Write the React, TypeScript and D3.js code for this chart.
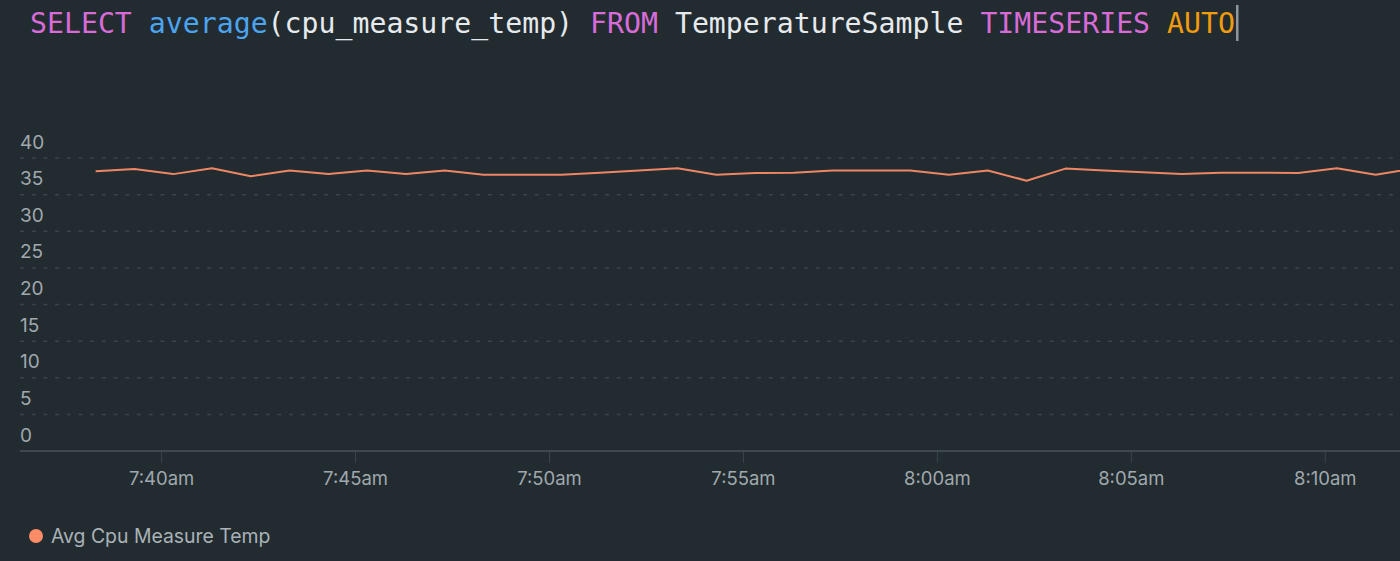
import React from "react";
import * as d3 from "d3";

const queryTokens = [
  { text: "SELECT", kind: "keyword" },
  { text: " ", kind: "plain" },
  { text: "average", kind: "func" },
  { text: "(cpu_measure_temp) ", kind: "plain" },
  { text: "FROM", kind: "keyword" },
  { text: " TemperatureSample ", kind: "plain" },
  { text: "TIMESERIES", kind: "keyword" },
  { text: " ", kind: "plain" },
  { text: "AUTO", kind: "auto" },
];

const times = [
  "07:38:18", "07:39:18", "07:40:18", "07:41:18", "07:42:18", "07:43:18", "07:44:18",
  "07:45:18", "07:46:18", "07:47:18", "07:48:18", "07:49:18", "07:50:18", "07:51:18",
  "07:52:18", "07:53:18", "07:54:18", "07:55:18", "07:56:18", "07:57:18", "07:58:18",
  "07:59:18", "08:00:18", "08:01:18", "08:02:18", "08:03:18", "08:04:18", "08:05:18",
  "08:06:18", "08:07:18", "08:08:18", "08:09:18", "08:10:18", "08:11:18", "08:12:18",
];

const values = [
  38.2, 38.5, 37.8, 38.6, 37.5, 38.3, 37.8, 38.3, 37.8, 38.3,
  37.7, 37.7, 37.7, 38.0, 38.3, 38.6, 37.7, 37.95, 38.0, 38.3,
  38.3, 38.3, 37.7, 38.3, 36.9, 38.55, 38.3, 38.05, 37.8, 38.0,
  38.0, 37.95, 38.6, 37.7, 38.6,
];

const yTicks = [0, 5, 10, 15, 20, 25, 30, 35, 40];
const seriesName = "Avg Cpu Measure Temp";
const domainStart = "07:36:21";
const domainEnd = "08:12:18";

const parse = d3.timeParse("%H:%M:%S");
const fmt = d3.timeFormat("%-I:%M%p");

const colors: Record<string, string> = {
  keyword: "#d86bd8",
  func: "#4ca4ee",
  plain: "#e6eaed",
  auto: "#f09c0c",
};

export default function App() {
  const W = 1400;
  const H = 561;
  const x = d3
    .scaleTime()
    .domain([parse(domainStart) as Date, parse(domainEnd) as Date])
    .range([20, 1414.5]);
  const y = d3.scaleLinear().domain([0, 40]).range([451, 158]);

  const data = times.map((t, i) => ({ t: parse(t) as Date, v: values[i] }));
  const line = d3
    .line<{ t: Date; v: number }>()
    .x((d) => x(d.t))
    .y((d) => y(d.v));

  const xTicks = x.ticks(d3.timeMinute.every(5) as any);

  const sans = "Inter, 'Open Sans', sans-serif";

  return (
    <svg
      width={W}
      height={H}
      style={{ position: "absolute", left: 0, top: 0, display: "block", background: "#222b30" }}
    >
      <rect x={0} y={0} width={W} height={H} fill="#222b30" />
      <text
        x={30}
        y={33}
        fontFamily="'DejaVu Sans Mono', monospace"
        fontSize={28.2}
        xmlSpace="preserve"
        style={{ whiteSpace: "pre" }}
      >
        {queryTokens.map((tk, i) => (
          <tspan key={i} fill={colors[tk.kind]}>
            {tk.text}
          </tspan>
        ))}
      </text>
      <rect x={1236} y={5} width={2.5} height={36} fill="#8e979c" />

      {yTicks.map((t) => (
        <g key={t}>
          {t > 0 && (
            <line
              x1={20}
              x2={W}
              y1={y(t)}
              y2={y(t)}
              stroke="#3a444a"
              strokeWidth={1.5}
              strokeDasharray="4,7.7"
            />
          )}
          <text x={20} y={y(t) - 9.5} fill="#a0a8ad" fontFamily={sans} fontSize={19}>
            {t}
          </text>
        </g>
      ))}

      <line x1={20} x2={W} y1={451} y2={451} stroke="#3e484e" strokeWidth={2} />

      {xTicks.map((t, i) => (
        <g key={i}>
          <line x1={x(t)} x2={x(t)} y1={452} y2={463} stroke="#3a444a" strokeWidth={1} />
          <text
            x={x(t)}
            y={485}
            textAnchor="middle"
            fill="#a0a8ad"
            fontFamily={sans}
            fontSize={18.5}
          >
            {fmt(t).toLowerCase()}
          </text>
        </g>
      ))}

      <path d={line(data) || ""} fill="none" stroke="#ee8664" strokeWidth={2} strokeLinejoin="round" />

      <circle cx={36} cy={536} r={7} fill="#ff8c66" />
      <text x={51} y={543} fill="#aab2b7" fontFamily={sans} fontSize={19.4}>
        {seriesName}
      </text>
    </svg>
  );
}
